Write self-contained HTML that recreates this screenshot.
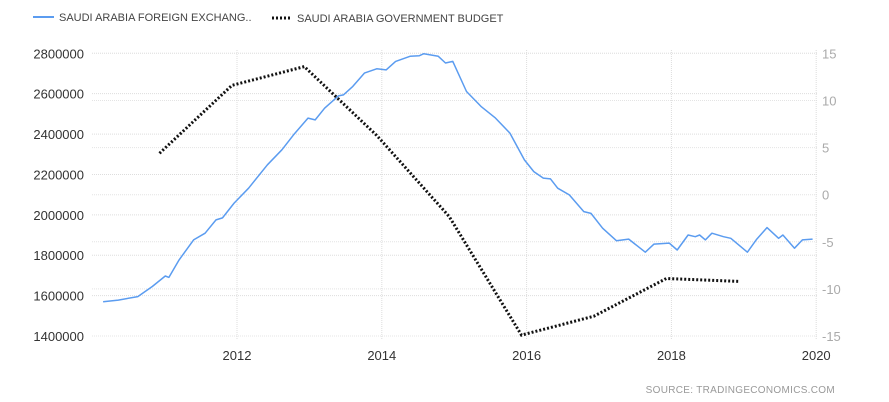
<!DOCTYPE html>
<html><head><meta charset="utf-8"><style>
body{margin:0;background:#fff;}
svg{display:block;font-family:"Liberation Sans",sans-serif;}
</style></head><body>
<svg id="chart" width="889" height="402" viewBox="0 0 889 402">
<g id="grid"></g>
<g id="axes"></g>
<g id="series"></g>
<g>
<line x1="33" y1="17" x2="54" y2="17" stroke="#5b9cf0" stroke-width="2"/>
<text x="59" y="21" font-size="11" fill="#444">SAUDI ARABIA FOREIGN EXCHANG..</text>
<line x1="272" y1="18" x2="291" y2="18" stroke="#111" stroke-width="3" stroke-dasharray="2 2"/>
<text x="297" y="22" font-size="11" fill="#444">SAUDI ARABIA GOVERNMENT BUDGET</text>
</g>
<text x="835" y="393" font-size="10" fill="#999" text-anchor="end" letter-spacing="0.3">SOURCE:  TRADINGECONOMICS.COM</text>
</svg>
<script>
const leftTicks=[1400000,1600000,1800000,2000000,2200000,2400000,2600000,2800000];
const rightTicks=[-15,-10,-5,0,5,10,15];
const yearTicks=[2012,2014,2016,2018,2020];
const fxDates=[2010.15,2010.36,2010.63,2010.83,2011.01,2011.06,2011.2,2011.4,2011.56,2011.71,2011.8,2011.96,2012.16,2012.42,2012.62,2012.78,2012.98,2013.08,2013.21,2013.4,2013.47,2013.6,2013.76,2013.93,2014.06,2014.19,2014.39,2014.52,2014.58,2014.78,2014.88,2014.98,2015.17,2015.37,2015.57,2015.77,2015.97,2016.1,2016.23,2016.33,2016.43,2016.59,2016.79,2016.89,2017.05,2017.24,2017.41,2017.64,2017.76,2017.97,2018.08,2018.23,2018.33,2018.39,2018.47,2018.56,2018.72,2018.82,2019.05,2019.18,2019.32,2019.48,2019.54,2019.7,2019.81,2019.95];
const fxValues=[1570000,1578000,1595000,1645000,1697000,1690000,1777000,1876000,1909000,1975000,1985000,2058000,2132000,2248000,2322000,2396000,2479000,2470000,2528000,2589000,2594000,2636000,2702000,2723000,2718000,2760000,2785000,2788000,2798000,2785000,2752000,2760000,2611000,2537000,2479000,2405000,2272000,2214000,2182000,2178000,2132000,2099000,2016000,2007000,1934000,1872000,1880000,1815000,1855000,1860000,1826000,1900000,1892000,1900000,1876000,1909000,1892000,1884000,1815000,1880000,1937000,1884000,1900000,1835000,1876000,1880000];
const budgetDates=[2010.93,2011.93,2012.93,2013.93,2014.93,2015.93,2016.93,2017.93,2018.93];
const budgetValues=[4.4,11.6,13.6,6.3,-2.3,-14.9,-12.9,-8.9,-9.2];

const NS="http://www.w3.org/2000/svg";
const X0=92.2,PX=72.4;
function x(t){return X0+(t-2010)*PX;}
function yL(v){return 336-(v-1400000)*(282.7/1400000);}
function yR(v){return 194.7-v*9.42;}
function mk(tag,attrs,parent){const e=document.createElementNS(NS,tag);for(const k in attrs)e.setAttribute(k,attrs[k]);parent.appendChild(e);return e;}
const grid=document.getElementById('grid'),axes=document.getElementById('axes'),series=document.getElementById('series');

leftTicks.forEach(v=>{
  const l=mk('line',{x1:92,x2:818,y1:yL(v),y2:yL(v),stroke:'#ddd','stroke-dasharray':'1 1'},grid);
  
  
  const t=mk('text',{x:84,y:yL(v)+5,'font-size':'13','text-anchor':'end',fill:'#333'},axes);
  t.textContent=v;
  
  
});
rightTicks.forEach(v=>{
  const l=mk('line',{x1:92,x2:818,y1:yR(v),y2:yR(v),stroke:'#e4e4e4','stroke-dasharray':'1 1'},grid);
  
  
  const t=mk('text',{x:822,y:yR(v)+5,'font-size':'13',fill:'#aaa'},axes);
  t.textContent=v;
  
  
});
yearTicks.forEach(v=>{
  const l=mk('line',{x1:x(v),x2:x(v),y1:50,y2:340,stroke:'#ddd','stroke-dasharray':'1 1'},grid);
  
  
  const t=mk('text',{x:x(v),y:360,'font-size':'13','text-anchor':'middle',fill:'#333'},axes);
  t.textContent=v;
  
  
});
const fx=mk('polyline',{points:fxDates.map((d,i)=>x(d).toFixed(1)+','+yL(fxValues[i]).toFixed(1)).join(' '),fill:'none',stroke:'#5b9cf0','stroke-width':'1.5','stroke-linejoin':'round'},series);


const bd=mk('polyline',{points:budgetDates.map((d,i)=>x(d).toFixed(1)+','+yR(budgetValues[i]).toFixed(1)).join(' '),fill:'none',stroke:'#111','stroke-width':'3','stroke-dasharray':'2 2'},series);


</script>
</body></html>
